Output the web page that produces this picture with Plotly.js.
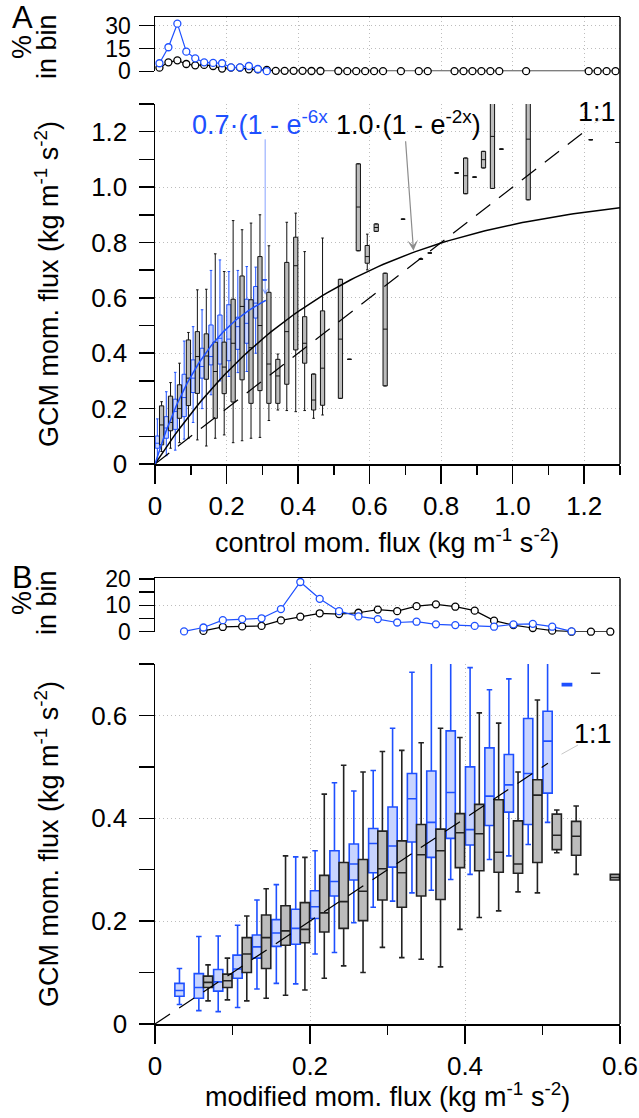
<!DOCTYPE html>
<html><head><meta charset="utf-8">
<script src="https://cdn.plot.ly/plotly-3.0.1.min.js"></script>
<style>html,body{margin:0;padding:0;background:#fff;}#chart{width:639px;height:1118px;}</style>
</head><body><div id="chart"></div>
<script>
// ---------------- DATA ----------------
// Panel A: boxes (control vs GCM), bin centres
const aBlueBins = [0.0125,0.0375,0.0625,0.0875,0.1125,0.1375,0.1625,0.1875,0.2125,0.2375,0.2625,0.2875,0.3125];
const aBlueMin  = [0.010,0.030,0.050,0.090,0.150,0.200,0.250,0.300,0.316,0.330,0.334,0.400,0.665];
const aBlueQ1   = [0.057,0.093,0.125,0.171,0.258,0.310,0.358,0.361,0.373,0.414,0.436,0.527,0.665];
const aBlueMed  = [0.075,0.130,0.190,0.240,0.310,0.352,0.388,0.454,0.451,0.496,0.508,0.581,0.665];
const aBlueQ3   = [0.101,0.171,0.234,0.324,0.376,0.418,0.502,0.538,0.575,0.530,0.595,0.641,0.665];
const aBlueMax  = [0.163,0.261,0.331,0.444,0.496,0.557,0.699,0.737,0.695,0.699,0.713,0.711,0.665];

const aBlackBins = [0.0125,0.0375,0.0625,0.0875,0.1125,0.1375,0.1625,0.1875,0.2125,0.2375,0.2625,0.2875,0.3125,0.3375,0.3625,0.3875,0.4125,0.4375,0.4625,0.5125,0.5375,0.5625,0.5875,0.6125,0.6375,0.6875,0.7375,0.7625,0.8375,0.8625,0.8875,0.9125,0.9375,0.9625,1.0375,1.2125,1.2875];
const aBlackMin = [0.045,0.057,0.077,0.093,0.087,0.065,0.093,0.105,0.077,0.084,0.093,0.096,0.157,0.195,0.193,0.189,0.193,0.165,0.177,0.237,0.378,0.770,0.701,0.840,0.282,0.884,0.740,0.762,1.051,0.976,1.036,1.069,0.995,1.137,0.954,1.171,1.161];
const aBlackQ1  = [0.069,0.120,0.165,0.211,0.255,0.306,0.165,0.254,0.224,0.304,0.219,0.265,0.219,0.219,0.288,0.412,0.364,0.195,0.212,0.237,0.378,0.770,0.725,0.840,0.282,0.884,0.740,0.762,1.051,0.976,1.036,1.069,0.995,1.137,0.954,1.171,1.161];
const aBlackMed = [0.141,0.150,0.200,0.310,0.388,0.390,0.334,0.350,0.436,0.569,0.420,0.500,0.361,0.318,0.478,0.716,0.436,0.231,0.346,0.451,0.378,0.928,0.749,0.854,0.487,0.884,0.740,0.762,1.051,1.041,1.036,1.099,1.183,1.137,1.173,1.171,1.161];
const aBlackQ3  = [0.210,0.245,0.286,0.448,0.478,0.470,0.440,0.440,0.595,0.679,0.593,0.749,0.620,0.378,0.728,0.819,0.532,0.325,0.553,0.667,0.378,1.084,0.789,0.867,0.689,0.884,0.740,0.762,1.051,1.105,1.036,1.129,1.450,1.137,1.450,1.171,1.161];
const aBlackMax = [0.225,0.294,0.364,0.475,0.629,0.631,0.759,0.695,0.879,0.846,0.870,0.900,0.788,0.397,0.873,0.906,0.767,0.325,0.816,0.667,0.378,1.084,0.830,0.867,0.689,0.884,0.740,0.762,1.051,1.105,1.036,1.129,1.450,1.137,1.450,1.171,1.161];

// Panel A: % in bin
const aHistBlueX = [0.0125,0.0375,0.0625,0.0875,0.1125,0.1375,0.1625,0.1875,0.2125,0.2375,0.2625,0.2875,0.3125];
const aHistBlueY = [5.3,15.8,31.3,12.9,8.5,5.9,5.5,5.3,2.6,2.6,3.5,1.5,0.1];
const aHistBlackX = [0.0125,0.0375,0.0625,0.0875,0.1125,0.1375,0.1625,0.1875,0.2125,0.2375,0.2625,0.2875,0.3125,0.3375,0.3625,0.3875,0.4125,0.4375,0.4625,0.5125,0.5375,0.5625,0.5875,0.6125,0.6375,0.6875,0.7375,0.7625,0.8375,0.8625,0.8875,0.9125,0.9375,0.9625,1.0375,1.2125,1.2375,1.2625,1.2875];
const aHistBlackY = [2.4,5.9,7.2,4.8,3.9,4.2,3.5,1.8,2.4,2.4,1.3,1.3,0.9,0.3,0.3,0.3,0.3,0.2,0.2,0.2,0.1,0.1,0.1,0.1,0.1,0.1,0.1,0.1,0.1,0.1,0.1,0.1,0.1,0.1,0.1,0.1,0.1,0.1,0.1];

// Panel B: boxes (modified vs GCM)
const bBlueBins = [0.0375,0.0625,0.0875,0.1125,0.1375,0.1625,0.1875,0.2125,0.2375,0.2625,0.2875,0.3125,0.3375,0.3625,0.3875,0.4125,0.4375,0.4625,0.4875,0.5125,0.5375];
const bBlueMin = [0.038,0.026,0.024,0.032,0.068,0.079,0.078,0.136,0.139,0.197,0.227,0.239,0.255,0.260,0.281,0.291,0.320,0.327,0.349,0.392,0.658];
const bBlueQ1  = [0.054,0.050,0.064,0.089,0.128,0.151,0.155,0.205,0.249,0.280,0.294,0.305,0.354,0.324,0.361,0.348,0.386,0.412,0.388,0.449,0.658];
const bBlueMed = [0.065,0.071,0.082,0.107,0.150,0.177,0.186,0.228,0.277,0.311,0.351,0.346,0.438,0.392,0.450,0.378,0.443,0.465,0.487,0.550,0.660];
const bBlueQ3  = [0.079,0.098,0.106,0.134,0.173,0.203,0.223,0.259,0.337,0.350,0.380,0.422,0.487,0.492,0.570,0.500,0.537,0.524,0.594,0.608,0.662];
const bBlueMax = [0.108,0.170,0.171,0.192,0.241,0.271,0.325,0.337,0.469,0.453,0.493,0.575,0.684,0.780,0.800,0.693,0.650,0.671,0.800,0.800,0.662];

const bBlackBins = [0.0625,0.0875,0.1125,0.1375,0.1625,0.1875,0.2125,0.2375,0.2625,0.2875,0.3125,0.3375,0.3625,0.3875,0.4125,0.4375,0.4625,0.4875,0.5125,0.5375,0.5625,0.5875];
const bBlackMin = [0.045,0.047,0.045,0.050,0.056,0.066,0.089,0.113,0.100,0.149,0.129,0.126,0.111,0.184,0.207,0.220,0.257,0.255,0.333,0.291,0.682,0.280];
const bBlackQ1  = [0.071,0.071,0.100,0.108,0.153,0.158,0.179,0.186,0.201,0.241,0.227,0.249,0.242,0.304,0.298,0.295,0.293,0.314,0.339,0.328,0.682,0.280];
const bBlackMed = [0.081,0.084,0.136,0.168,0.181,0.184,0.216,0.238,0.258,0.302,0.294,0.329,0.337,0.372,0.370,0.334,0.311,0.445,0.367,0.365,0.682,0.285];
const bBlackQ3  = [0.093,0.097,0.168,0.212,0.230,0.236,0.289,0.314,0.320,0.375,0.356,0.388,0.379,0.409,0.427,0.436,0.395,0.475,0.408,0.394,0.682,0.291];
const bBlackMax = [0.115,0.128,0.210,0.263,0.327,0.324,0.447,0.503,0.490,0.530,0.532,0.547,0.575,0.557,0.605,0.585,0.490,0.630,0.416,0.424,0.682,0.291];

// Panel B: % in bin
const bHistBlueX = bBlueBins;
const bHistBlueY = [0.1,1.6,4.4,4.8,5.1,8.6,18.9,12.5,7.8,5.8,4.8,3.5,3.8,2.8,2.5,2.2,1.9,2.8,3.0,1.9,0.1];
const bHistBlackX = bBlackBins;
const bHistBlackY = [0.3,1.8,2.0,2.2,4.3,5.7,7.0,6.7,7.2,8.4,7.8,9.7,10.4,9.5,8.0,4.2,2.5,1.4,0.4,0,0,0];

// Fits and 1:1 lines
const fitBlue  = {amp:0.7, rate:6, xmax:0.31};
const fitBlack = {amp:1.0, rate:2, xmax:1.3};
const oneToOneA = [0, 1.2];
const oneToOneB = [0, 0.507];

// Tick labels
const aTickVals = [0,0.2,0.4,0.6,0.8,1.0,1.2];
const aTickText = ['0','0.2','0.4','0.6','0.8','1.0','1.2'];
const aMinorVals = [0.1,0.3,0.5,0.7,0.9,1.1,1.3];
const bTickVals = [0,0.2,0.4,0.6];
const bTickText = ['0','0.2','0.4','0.6'];
const bMinorVals = [0.1,0.3,0.5,0.7];
const hATickVals = [0,15,30];
const hBTickVals = [0,10,20];
const hBMinorVals = [5,15];

// ---------------- BUILD ----------------
const W=639, H=1118, X0=155, X1=620;
const xdom=[X0/W, X1/W];
function yd(top,bottom){return [1-bottom/H, 1-top/H];}
function px(x){return x/W;} function py(y){return 1-y/H;}
const BLUE='rgb(30,80,255)', BLUEFILL='rgb(200,212,255)', GRAYFILL='rgb(188,188,188)';
const FONT='"Liberation Sans", Arial, Helvetica, sans-serif';

function boxTrace(x,mn,q1,md,q3,mx,xa,ya,line,fill,lw,ag,og){
  return {type:'box',x:x,lowerfence:mn,q1:q1,median:md,q3:q3,upperfence:mx,xaxis:xa,yaxis:ya,
    orientation:'v',fillcolor:fill,line:{color:line,width:lw},whiskerwidth:0.6,boxpoints:false,
    alignmentgroup:ag,offsetgroup:og,hoverinfo:'skip',showlegend:false};
}
function fitLine(f){
  const xs=[],ys=[]; const n=100;
  for(let i=0;i<=n;i++){const x=f.xmax*i/n; xs.push(x); ys.push(f.amp*(1-Math.exp(-f.rate*x)));}
  return {xs,ys};
}
const fb=fitLine(fitBlue), fk=fitLine(fitBlack);

function histTrace(x,y,color,xa,ya){
  return {type:'scatter',mode:'lines+markers',x:x,y:y,xaxis:xa,yaxis:ya,cliponaxis:false,
    line:{color:color,width:1.2},marker:{symbol:'circle',size:7,color:'white',line:{color:color,width:1.3}},
    hoverinfo:'skip',showlegend:false};
}

const data=[
  boxTrace(aBlueBins,aBlueMin,aBlueQ1,aBlueMed,aBlueQ3,aBlueMax,'x2','y2',BLUE,BLUEFILL,1,'A','a1'),
  boxTrace(aBlackBins,aBlackMin,aBlackQ1,aBlackMed,aBlackQ3,aBlackMax,'x2','y2','#111',GRAYFILL,1,'A','a2'),
  boxTrace(bBlueBins,bBlueMin,bBlueQ1,bBlueMed,bBlueQ3,bBlueMax,'x4','y4',BLUE,BLUEFILL,1.6,'B','b1'),
  boxTrace(bBlackBins,bBlackMin,bBlackQ1,bBlackMed,bBlackQ3,bBlackMax,'x4','y4','#222',GRAYFILL,1.6,'B','b2'),
  {type:'scatter',mode:'lines',x:oneToOneA,y:oneToOneA,xaxis:'x2',yaxis:'y2',line:{color:'#000',width:1.2,dash:'18px,11px'},hoverinfo:'skip',showlegend:false},
  {type:'scatter',mode:'lines',x:fk.xs,y:fk.ys,xaxis:'x2',yaxis:'y2',line:{color:'#000',width:1.5},hoverinfo:'skip',showlegend:false},
  {type:'scatter',mode:'lines',x:fb.xs,y:fb.ys,xaxis:'x2',yaxis:'y2',line:{color:BLUE,width:1.5},hoverinfo:'skip',showlegend:false},
  {type:'scatter',mode:'lines',x:oneToOneB,y:oneToOneB,xaxis:'x4',yaxis:'y4',line:{color:'#000',width:1.2,dash:'18px,11px'},hoverinfo:'skip',showlegend:false},
  histTrace(aHistBlackX,aHistBlackY,'#000','x','y'),
  histTrace(aHistBlueX,aHistBlueY,BLUE,'x','y'),
  histTrace(bHistBlackX,bHistBlackY,'#000','x3','y3'),
  histTrace(bHistBlueX,bHistBlueY,BLUE,'x3','y3')
];

const base={showline:true,linecolor:'#000',linewidth:1.5,zeroline:false,ticks:'outside',tickcolor:'#000',
  tickwidth:1.5,tickfont:{size:26,color:'#000',family:FONT},gridcolor:'#bdbdbd',griddash:'1px,3px',gridwidth:1,
  showgrid:true,fixedrange:true,tickmode:'array'};
function minor(vals,len){return {tickmode:'array',tickvals:vals,ticks:'outside',ticklen:len,tickwidth:1.5,tickcolor:'#000',showgrid:false};}
const hfont={size:23,color:'#000',family:FONT};

function ann(text,x,y,opts){
  return Object.assign({text:text,xref:'paper',yref:'paper',x:px(x),y:py(y),showarrow:false,
    xanchor:'center',yanchor:'middle',font:{size:27}},opts||{});
}

const layout={
  width:W,height:H,margin:{l:0,r:0,t:0,b:0},paper_bgcolor:'#fff',plot_bgcolor:'#fff',
  showlegend:false,font:{family:FONT,size:26,color:'#000'},
  boxmode:'group',boxgap:0.05,boxgroupgap:0,
  xaxis:Object.assign({},base,{domain:xdom,anchor:'y',range:[0,1.3],side:'top',ticks:'',showticklabels:false,tickvals:[0.2,0.4,0.6,0.8,1.0,1.2]}),
  yaxis:Object.assign({},base,{domain:yd(17,71.3),anchor:'x',range:[0,35.7],tickvals:hATickVals,ticktext:['0','15','30'],ticklen:15,ticklabelstandoff:3,tickfont:hfont}),
  xaxis2:Object.assign({},base,{domain:xdom,anchor:'y2',range:[0,1.3],tickvals:aTickVals,ticktext:aTickText,ticklen:18,minor:minor(aMinorVals,9)}),
  yaxis2:Object.assign({},base,{domain:yd(104,464),anchor:'x2',range:[0,1.3],tickvals:aTickVals,ticktext:aTickText,ticklen:15,ticklabelstandoff:6,minor:minor(aMinorVals,15)}),
  xaxis3:Object.assign({},base,{domain:xdom,anchor:'y3',range:[0,0.6],side:'top',ticks:'',showticklabels:false,tickvals:[0.2,0.4]}),
  yaxis3:Object.assign({},base,{domain:yd(578.3,631.7),anchor:'x3',range:[0,20.3],tickvals:hBTickVals,ticktext:['0','10','20'],ticklen:15,ticklabelstandoff:3,tickfont:hfont,minor:minor(hBMinorVals,15)}),
  xaxis4:Object.assign({},base,{domain:xdom,anchor:'y4',range:[0,0.6],tickvals:bTickVals,ticktext:bTickText,ticklen:18,minor:minor(bMinorVals,9)}),
  yaxis4:Object.assign({},base,{domain:yd(664,1024),anchor:'x4',range:[0,0.7],tickvals:bTickVals,ticktext:bTickText,ticklen:15,ticklabelstandoff:6,minor:minor(bMinorVals,15)}),
  shapes:[
    {type:'line',xref:'paper',yref:'paper',x0:px(X1),x1:px(X1),y0:py(17),y1:py(464),line:{color:'#000',width:1.5}},
    {type:'line',xref:'paper',yref:'paper',x0:px(X1),x1:px(X1),y0:py(578.3),y1:py(1024),line:{color:'#000',width:1.5}}
  ],
  annotations:[
    ann('A',22,18,{font:{size:31}}),
    ann('B',22,578,{font:{size:31}}),
    ann('%',22,47,{textangle:-90}),
    ann('in bin',47,47,{textangle:-90}),
    ann('%',22,603,{textangle:-90}),
    ann('in bin',47,603,{textangle:-90}),
    ann('GCM mom. flux (kg m<sup>-1</sup> s<sup>-2</sup>)',47,284,{textangle:-90}),
    ann('GCM mom. flux (kg m<sup>-1</sup> s<sup>-2</sup>)',47,844,{textangle:-90}),
    ann('control mom. flux (kg m<sup>-1</sup> s<sup>-2</sup>)',387,541),
    ann('modified mom. flux (kg m<sup>-1</sup> s<sup>-2</sup>)',387,1095),
    ann('0.7·(1 - e<sup>-6x</sup>',190,123,{xanchor:'left',font:{size:27,color:BLUE}}),
    ann('1.0·(1 - e<sup>-2x</sup>)',334,123,{xanchor:'left'}),
    {text:'',xref:'x2',yref:'y2',x:0.308,y:0.611,ax:0,ay:-157,showarrow:true,arrowhead:3,arrowsize:1.2,arrowwidth:1,arrowcolor:'rgba(40,90,255,0.55)'},
    {text:'',xref:'x2',yref:'y2',x:0.7227,y:0.770,ax:-8,ay:-111,showarrow:true,arrowhead:3,arrowsize:1.5,arrowwidth:1.2,arrowcolor:'#8c8c8c'},
    ann('1:1',597,112),
    {text:'',xref:'paper',yref:'paper',x:px(603),y:py(118),ax:-10,ay:6,showarrow:true,arrowhead:0,arrowwidth:1,arrowcolor:'#c8c8c8'},
    ann('1:1',593,734),
    {text:'',xref:'paper',yref:'paper',x:px(578),y:py(745),ax:-18,ay:10,showarrow:true,arrowhead:0,arrowwidth:1,arrowcolor:'#c8c8c8'}
  ]
};
Plotly.newPlot('chart',data,layout,{displayModeBar:false,staticPlot:true});
</script></body></html>
